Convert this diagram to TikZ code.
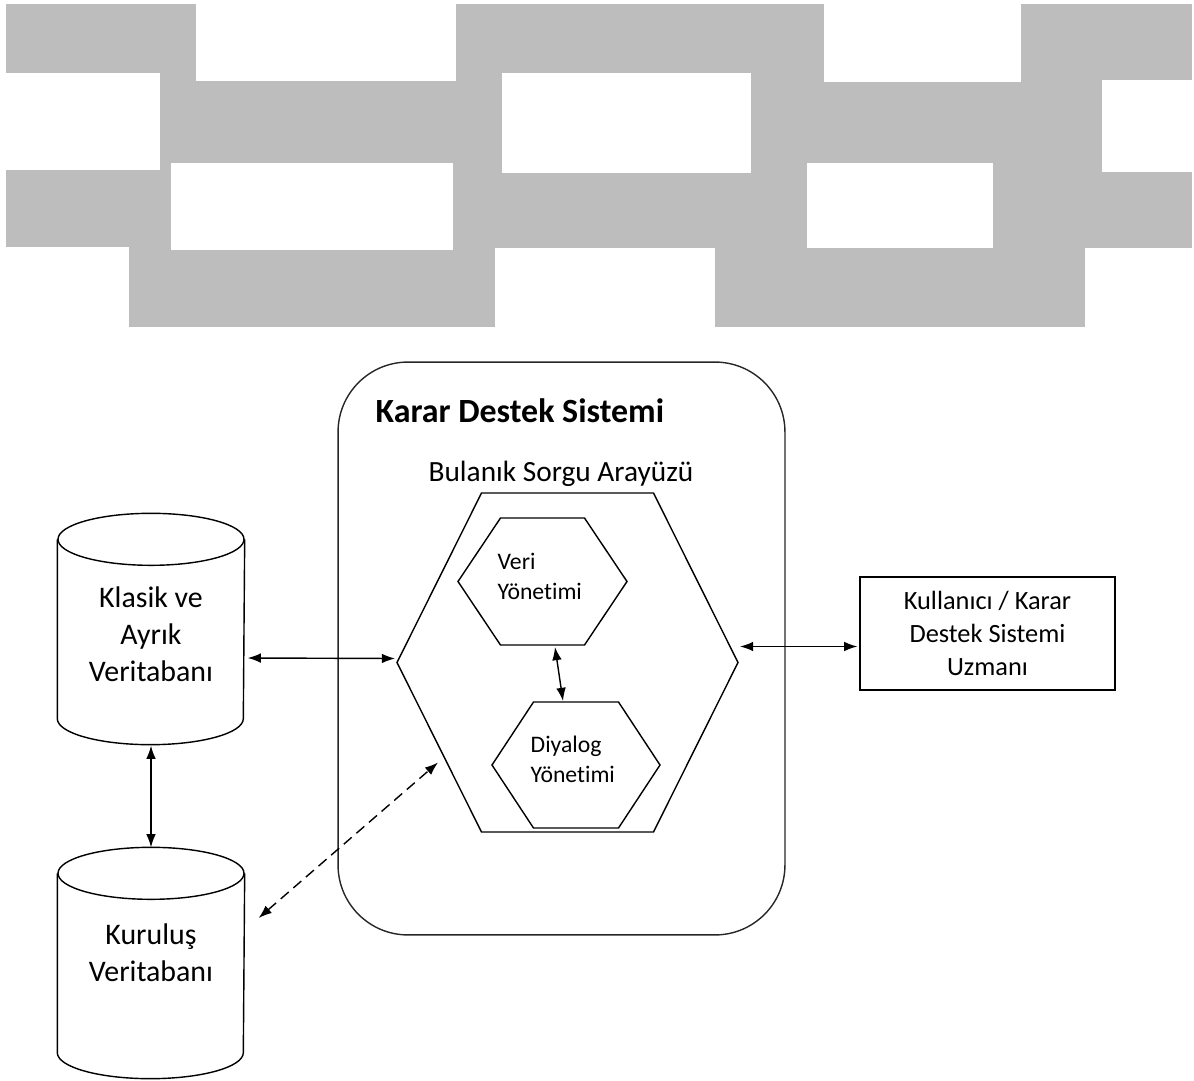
\documentclass[tikz,border=0pt]{standalone}
\usepackage{fontspec}
\setmainfont{Carlito}[Ligatures=NoCommon]
\usetikzlibrary{calc,positioning,arrows.meta}
\definecolor{tugla}{RGB}{189,189,189}
\newcommand{\Altigen}[6]{%
  \draw ({#2-#5},{#3-#6}) coordinate (#1n) -- ({#2+#5},{#3-#6}) -- ({#2+#4},#3) coordinate (#1e)
     -- ({#2+#5},{#3+#6}) -- ({#2-#5},{#3+#6}) -- ({#2-#4},#3) coordinate (#1w) -- cycle;
  \coordinate (#1n) at (#2,{#3-#6});
  \coordinate (#1s) at (#2,{#3+#6});}
\newcommand{\Silindir}[1]{%
  \draw ($(#1.north west)+(0,26)$) -- ($(#1.south west)+(0,-26)$)
     arc[start angle=180, end angle=0, x radius=93, y radius=26] -- ($(#1.north east)+(0,26)$);
  \draw ($(#1.north)+(0,26)$) ellipse [x radius=93, y radius=26];}

\begin{document}
\begin{tikzpicture}[
                    >={Latex[length=7.5pt,width=5.5pt]},
                x=0.02cm, y=-0.02cm,
                line width=0.8pt,
                dbkutu/.style={minimum width=3.72cm, minimum height=4.6cm, inner sep=0pt},
                dbyazi/.style={font=\fontsize{17}{21}\selectfont, align=center, inner sep=0pt},
                hexyazi/.style={font=\fontsize{13.5}{17}\selectfont, align=left, inner sep=0pt, anchor=west},
                kulyazi/.style={font=\fontsize{15}{18.9}\selectfont, align=center}]

                \useasboundingbox (0,0) rectangle (1194,1081);

                % grey pattern at the top
                \fill[tugla] (6,4) rectangle (1192,327);
                \foreach \xa/\ya/\xb/\yb in {196/4/456/81, 824/4/1021/82, 6/73/160/170,
                        502/73/751/173, 1102/80/1192/172, 171/163/453/250, 807/163/993/248,
                        6/247/129/327, 495/248/715/327, 1085/248/1192/327}
                    \fill[white] (\xa,\ya) rectangle (\xb,\yb);

                % decision support system
                \draw(561.5,648.5) node[draw=black!85, rounded corners=1.4cm, minimum width=8.94cm, minimum height=11.46cm] (kds) {};
                \draw(375,422) node[anchor=base west, inner sep=0pt, font=\bfseries\fontsize{19.3}{23}\selectfont] (baslik) {Karar Destek Sistemi};
                \draw(561,481) node[anchor=base, inner sep=0pt, font=\fontsize{16.7}{20}\selectfont] (bsayazi) {Bulanık Sorgu Arayüzü};

                \Altigen{bsa}{567.5}{662.5}{170.5}{86}{169.5}
                \Altigen{vy}{542.5}{581.5}{84.5}{42}{63.5}
                \Altigen{dy}{576}{765}{84}{42.5}{63}
                \draw(497,576.5) node[hexyazi] (veri) {Veri\\Yönetimi};
                \draw(530,759) node[hexyazi] (diyalog) {Diyalog\\Yönetimi};

                % databases
                \draw(151,629) node[dbkutu] (kvt) {};
                \draw(151,963) node[dbkutu] (kur) {};
                \Silindir{kvt}
                \Silindir{kur}
                \draw($(kvt)+(0,5)$) node[dbyazi] (kvtyazi) {Klasik ve\\Ayrık\\Veritabanı};
                \draw($(kur)+(0,-10)$) node[dbyazi] (kuryazi) {Kuruluş\\Veritabanı};

                % user
                \draw(987.5,633.5) node[draw, minimum width=5.1cm, minimum height=2.26cm, kulyazi] (kul) {Kullanıcı / Karar\\Destek Sistemi\\Uzmanı};

                \draw[<->] ($(vys)+(12.5,2)$) -- ($(dyn)+(-13,-1)$);
                \draw[<->] ($(kvt.east)+(3,29)$) -- ($(bsaw)+(-2,-4)$);
                \draw[<->] ($(kvt.south)+(0,1)$) -- (kur.north);
                \draw[<->, dash pattern=on 6pt off 3.5pt] ($(kur.east)+(14,-45)$) -- ($(bsaw)+(41,100)$);
                \draw[<->] ($(bsae)+(2,-16)$) -- ($(kul.west)+(-2,13)$);

            \end{tikzpicture}
\end{document}
